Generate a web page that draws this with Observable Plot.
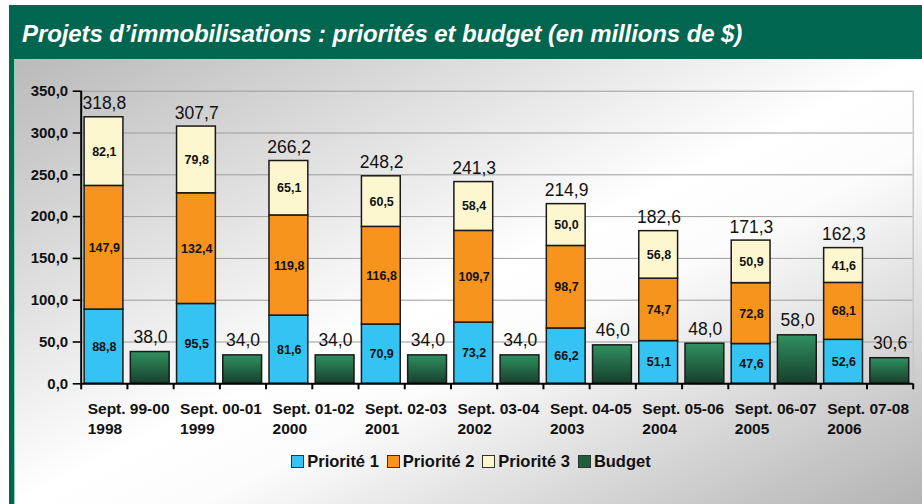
<!DOCTYPE html>
<html><head><meta charset="utf-8">
<script src="https://cdn.jsdelivr.net/npm/d3@7"></script>
<script src="https://cdn.jsdelivr.net/npm/@observablehq/plot@0.6"></script>
<style>
body{margin:0;width:922px;height:504px;position:relative;overflow:hidden;background:#fff;font-family:"Liberation Sans",Arial,sans-serif;}
#header{position:absolute;left:9px;top:5px;width:913px;height:54px;background:#00664f;}
#title{position:absolute;left:13px;top:18px;color:#fff;font-size:24px;line-height:22px;font-weight:bold;font-style:italic;white-space:nowrap;letter-spacing:-0.1px;}
#bg{position:absolute;left:15px;top:59px;width:907px;height:445px;background:linear-gradient(to bottom right,#bababa 0%,#ffffff 50%,#fcfcfc 60%,#b3b3b3 100%);}
#strip{position:absolute;left:9px;top:59px;width:5px;height:445px;background:#00664f;border-right:1px solid #8fd0c0;}
#chart{position:absolute;left:0;top:59px;}
#legend{position:absolute;left:10px;top:452px;width:922px;display:flex;justify-content:center;gap:8px;font-size:16.5px;font-weight:bold;color:#111;}
#legend .it{display:flex;align-items:center;gap:3px;}
#legend .sw{width:11px;height:11px;border:1px solid #333;}
svg [aria-label^="y-axis"] text{font-size:15px;font-weight:bold;fill:#111;}
svg [aria-label^="y-axis"] line, svg [aria-label^="y-axis tick"] path{stroke-width:1.6;}
svg [aria-label^="x-axis"] line, svg [aria-label^="x-axis tick"] path{stroke-width:2;}
</style>
</head><body>
<div id="header"><div id="title">Projets d’immobilisations : priorités et budget (en millions de $)</div></div>
<div id="bg"></div>
<div id="strip"></div>
<div id="chart"></div>
<div id="legend"></div>
<script>
const periods = ["Sept. 99-00","Sept. 00-01","Sept. 01-02","Sept. 02-03","Sept. 03-04","Sept. 04-05","Sept. 05-06","Sept. 06-07","Sept. 07-08"];
const years = ["1998","1999","2000","2001","2002","2003","2004","2005","2006"];
const priorite1 = [88.8,95.5,81.6,70.9,73.2,66.2,51.1,47.6,52.6];
const priorite2 = [147.9,132.4,119.8,116.8,109.7,98.7,74.7,72.8,68.1];
const priorite3 = [82.1,79.8,65.1,60.5,58.4,50.0,56.8,50.9,41.6];
const totals = [318.8,307.7,266.2,248.2,241.3,214.9,182.6,171.3,162.3];
const budget = [38.0,34.0,34.0,34.0,34.0,46.0,48.0,58.0,30.6];
const seriesNames = ["Priorité 1","Priorité 2","Priorité 3","Budget"];
const seriesColors = ["#35c3f3","#f7941d","#fdf7cf","#22704a"];
const yTicks = [0,50,100,150,200,250,300,350];

const fmt = v => v.toFixed(1).replace(".", ",");

// choose a narrow face for the in-bar labels if one is installed
function hasFont(name) {
  const ctx = document.createElement("canvas").getContext("2d");
  ctx.font = "bold 40px monospace";
  const a = ctx.measureText("147,9 Sept").width;
  ctx.font = `bold 40px "${name}", monospace`;
  return ctx.measureText("147,9 Sept").width !== a;
}
const narrow = hasFont("Liberation Sans Narrow") ? "Liberation Sans Narrow" : (hasFont("Arial Narrow") ? "Arial Narrow" : null);
const innerFont = narrow ? `${narrow}, sans-serif` : "Liberation Sans, Arial, sans-serif";
const innerSize = narrow ? 15 : 12.5;

const stacked = [];
periods.forEach((p, i) => {
  [priorite1, priorite2, priorite3].forEach((arr, k) => {
    stacked.push({slot: 2 * i, series: seriesNames[k], value: arr[i]});
  });
});
const budgetData = budget.map((v, i) => ({slot: 2 * i + 1, value: v}));
const totalData = totals.map((v, i) => ({slot: 2 * i, value: v}));
const labelData = periods.map((p, i) => ({slot: 2 * i, line1: p, line2: years[i]}));

const chart = Plot.plot({
  width: 922, height: 386,
  marginLeft: 80.7, marginRight: 9.3, marginTop: 31.7, marginBottom: 61.7,
  style: {background: "transparent", fontFamily: "Liberation Sans, Arial, sans-serif", color: "#000", overflow: "visible"},
  x: {domain: [0, 18], ticks: d3.range(0, 19), tickFormat: () => "", tickSize: 6, label: null},
  y: {domain: [0, 350], ticks: yTicks, tickFormat: fmt, tickSize: 8, tickPadding: 5, label: null},
  color: {domain: seriesNames, range: seriesColors},
  marks: [
    Plot.ruleY(yTicks.filter(d => d > 0), {stroke: "#9c9c9c", strokeWidth: 1}),
    Plot.ruleX([18], {stroke: "#c8c8c8", strokeWidth: 1.5}),
    Plot.rectY(stacked, Plot.stackY({x1: "slot", x2: d => d.slot + 1, y: "value", fill: "series", stroke: "#1a1a1a", strokeWidth: 1.5, insetLeft: 3.4, insetRight: 4})),
    Plot.rectY(budgetData, {x1: "slot", x2: d => d.slot + 1, y: "value", fill: "url(#budgetGrad)", stroke: "#1a1a1a", strokeWidth: 1.5, insetLeft: 3.4, insetRight: 4}),
    Plot.text(stacked, Plot.stackY({x: d => d.slot + 0.5, y: "value", text: d => fmt(d.value), fontSize: innerSize, fontFamily: innerFont, fontWeight: "bold", fill: "#111"})),
    Plot.text(totalData, {x: d => d.slot + 0.5, y: "value", text: d => fmt(d.value), lineAnchor: "bottom", dy: -8, fontSize: 17.5, fill: "#111"}),
    Plot.text(budgetData, {x: d => d.slot + 0.5, y: "value", text: d => fmt(d.value), lineAnchor: "bottom", dy: -9, fontSize: 17.5, fill: "#111"}),
    Plot.text(labelData, {x: d => d.slot + 0.14, y: () => 0, text: "line1", textAnchor: "start", lineAnchor: "bottom", dy: 30, fontSize: 15.5, fontWeight: "bold", fill: "#111"}),
    Plot.text(labelData, {x: d => d.slot + 0.14, y: () => 0, text: "line2", textAnchor: "start", lineAnchor: "bottom", dy: 50, fontSize: 15.5, fontWeight: "bold", fill: "#111"}),
    Plot.ruleX([0], {stroke: "#000", strokeWidth: 2}),
    Plot.ruleY([0], {stroke: "#000", strokeWidth: 2})
  ]
});

const svgEl = chart.tagName.toLowerCase() === "svg" ? chart : chart.querySelector("svg");
const defs = d3.select(svgEl).insert("defs", ":first-child");
const grad = defs.append("linearGradient").attr("id", "budgetGrad").attr("x1", 0).attr("y1", 0).attr("x2", 0).attr("y2", 1);
grad.append("stop").attr("offset", "0").attr("stop-color", "#2f9060");
grad.append("stop").attr("offset", "1").attr("stop-color", "#173f2c");
document.getElementById("chart").appendChild(chart);

const legend = d3.select("#legend");
seriesNames.forEach((n, i) => {
  const it = legend.append("div").attr("class", "it");
  it.append("div").attr("class", "sw").style("background", i === 3 ? "#1f5e3e" : seriesColors[i]);
  it.append("span").text(n);
});
</script>
</body></html>
